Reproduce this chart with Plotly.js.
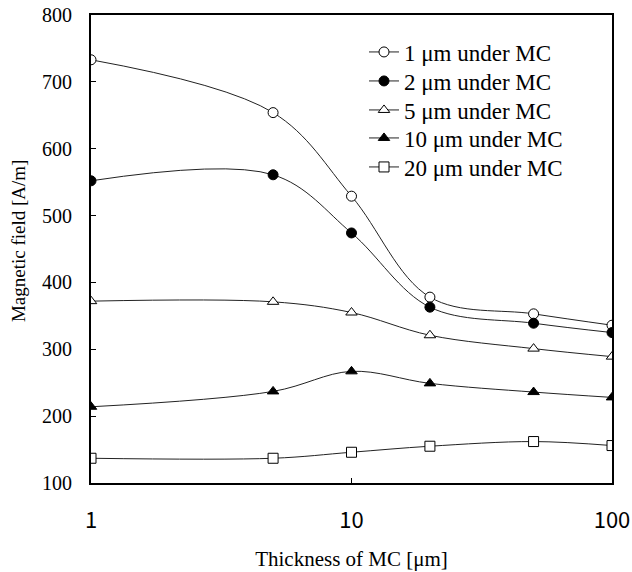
<!DOCTYPE html>
<html><head><meta charset="utf-8">
<script src="https://cdn.plot.ly/plotly-3.0.1.min.js"></script>
<style>html,body{margin:0;padding:0;background:#fff}</style>
</head><body><div id="chart" style="width:632px;height:572px"></div>
<script>
const thickness = [1, 5, 10, 20, 50, 100];
const s1 = [733, 654, 529, 378, 353, 336];
const s2 = [552, 561, 474, 363, 339, 325];
const s5 = [372, 371, 355, 321, 301, 289];
const s10 = [214, 237, 267, 249, 236, 228];
const s20 = [137, 137, 146, 155, 162, 156];
const names = ['1 \u03bcm under MC','2 \u03bcm under MC','5 \u03bcm under MC','10 \u03bcm under MC','20 \u03bcm under MC'];
const xTicks = [1, 10, 100];
const yTicks = [100,200,300,400,500,600,700,800];

const series = [s1, s2, s5, s10, s20];
const symbols = ['circle','circle','triangle-up','triangle-up','square'];
const fills = ['#fff','#000','#fff','#000','#fff'];
const legendIds = ['legend','legend2','legend3','legend4','legend5'];
const traces = series.map((s,i)=>({
  x: thickness, y: s, name: names[i], type:'scatter', mode:'lines+markers',
  legend: legendIds[i],
  line:{shape:'spline', smoothing:1, color:'#222', width:1},
  marker:{symbol:symbols[i], size:10, color: fills[i], line:{color:'#000', width:1}},
}));

const serif = '"Liberation Serif", "Times New Roman", serif';
const rowPx = [52, 81, 110, 138, 167];
const layout = {
  width:632, height:572,
  margin:{l:91, r:20, t:15, b:89},
  paper_bgcolor:'#fff', plot_bgcolor:'#fff',
  font: {family:serif, size:20, color:'#000'},
  showlegend:true,
  xaxis:{type:'log', range:[0,2], tickvals:xTicks, ticktext:xTicks.map(String),
         ticks:'inside', ticklen:5, tickcolor:'#000', showgrid:false, zeroline:false,
         showline:true, linecolor:'#000', linewidth:2, mirror:true,
         tickfont:{family:'"Noto Sans CJK KR", "DejaVu Sans", sans-serif', size:22, color:'#000'},
         ticklabelstandoff:17,
         title:{text:'Thickness of MC [\u03bcm]', font:{family:serif, size:21, color:'#000'}, standoff:18}},
  yaxis:{range:[100,800], tickvals:yTicks, ticks:'inside', ticklen:5, tickcolor:'#000',
         showgrid:false, zeroline:false, showline:true, linecolor:'#000', linewidth:2, mirror:true,
         tickfont:{family:serif, size:20, color:'#000'}, ticklabelstandoff:13},
  annotations:[{text:'Magnetic field [A/m]', xref:'paper', yref:'paper', x:-0.140, y:0.517,
                xanchor:'center', yanchor:'middle', textangle:-90, showarrow:false,
                font:{family:serif, size:19, color:'#000'}}]
};
legendIds.forEach((id,i)=>{
  layout[id] = {x:0.524, y:(483-rowPx[i])/468, xanchor:'left', yanchor:'middle',
    bgcolor:'rgba(0,0,0,0)', font:{family:serif, size:23, color:'#000'}, itemwidth:30};
});
Plotly.newPlot('chart', traces, layout, {displayModeBar:false, staticPlot:true});
</script></body></html>
